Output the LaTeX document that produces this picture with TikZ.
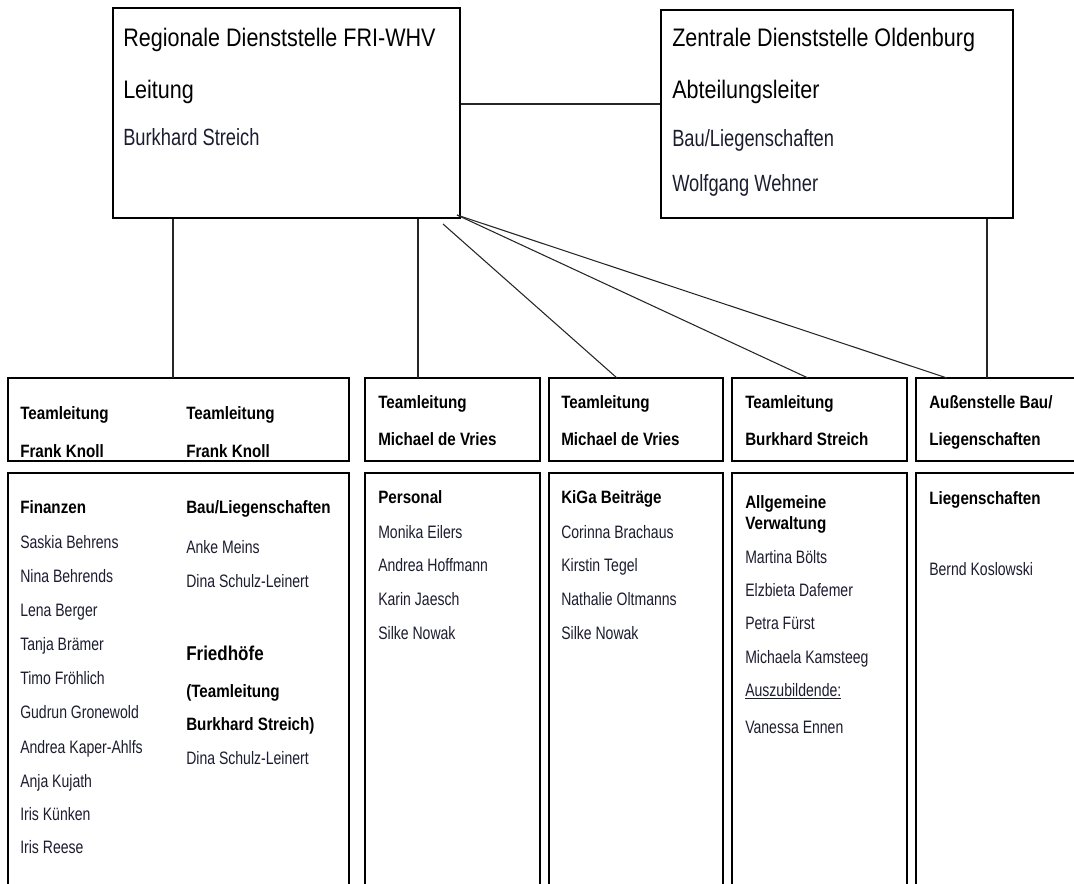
\documentclass[tikz,border=0pt]{standalone}
\usepackage{fontspec}
\setmainfont{Liberation Sans}[FakeStretch=0.85]
\newfontfamily\namefont{Liberation Sans}[FakeStretch=0.78]
\usetikzlibrary{fit}
\definecolor{namecol}{RGB}{28,28,48}
\begin{document}
\begin{tikzpicture}[x=0.75pt,y=-0.75pt,
  box/.style={draw=black, line width=1.2pt, inner sep=0pt},
  link/.style={draw=black!85, line width=0.8pt},
  big/.style={anchor=base west, inner sep=0pt, font=\fontsize{19}{23}\selectfont},
  mid/.style={anchor=base west, inner sep=0pt, font=\namefont\fontsize{17.6}{21}\selectfont, text=namecol},
  head/.style={anchor=base west, inner sep=0pt, font=\fontsize{13.4}{16}\selectfont\bfseries},
  who/.style={anchor=base west, inner sep=0pt, font=\namefont\fontsize{13.5}{16}\selectfont, text=namecol}]
\useasboundingbox (0,0) rectangle (1074,884);
\clip (0,0) rectangle (1074,884);

% top level offices
\node[box, fit={(113,8) (460,218)}] (reg) {};
\node[box, fit={(661,10) (1013,218)}] (zen) {};
\node[big] (reg1) at (123,47) {Regionale Dienststelle FRI-WHV};
\node[big] (reg2) at (123,99) {Leitung};
\node[mid] (reg3) at (123,146) {Burkhard Streich};
\node[big] (zen1) at (672,47) {Zentrale Dienststelle Oldenburg};
\node[big] (zen2) at (672,99) {Abteilungsleiter};
\node[mid] (zen3) at (672,147) {Bau/Liegenschaften};
\node[mid] (zen4) at (672,192) {Wolfgang Wehner};

% team heads
\node[box, fit={(8,378) (349,461)}] (h1) {};
\node[box, fit={(365,378) (540,461)}] (h2) {};
\node[box, fit={(549,378) (723,461)}] (h3) {};
\node[box, fit={(732,378) (907,461)}] (h4) {};
\node[box, fit={(916,378) (1090,461)}] (h5) {};

% team bodies
\node[box, fit={(8,473) (349,900)}] (b1) {};
\node[box, fit={(365,473) (540,900)}] (b2) {};
\node[box, fit={(549,473) (723,900)}] (b3) {};
\node[box, fit={(732,473) (907,900)}] (b4) {};
\node[box, fit={(916,473) (1090,900)}] (b5) {};

% connectors
\coordinate (link) at (560,104);
\draw[link] (reg.east |- link) -- (zen.west |- link);
\coordinate (t1) at (173,378);
\coordinate (t2) at (418,378);
\coordinate (t3) at (617,378);
\coordinate (t4) at (808,378);
\coordinate (t5) at (987,378);
\coordinate (t6) at (947,378);
\coordinate (a0) at (443,224);
\coordinate (a1) at (457,215);
\draw[link] (t1 |- reg.south) -- (t1);
\draw[link] (t2 |- reg.south) -- (t2);
\draw[link] (a0) -- (t3);
\draw[link] (a1) -- (t4);
\draw[link] (a1) -- (t6);
\draw[link] (t5 |- zen.south) -- (t5);

% head texts
\node[head] (h1a) at (20,419) {Teamleitung};
\node[head] (h1b) at (20,457) {Frank Knoll};
\node[head] (h1c) at (186,419) {Teamleitung};
\node[head] (h1d) at (186,457) {Frank Knoll};
\node[head] (h2a) at (378,408) {Teamleitung};
\node[head] (h2b) at (378,445) {Michael de Vries};
\node[head] (h3a) at (561,408) {Teamleitung};
\node[head] (h3b) at (561,445) {Michael de Vries};
\node[head] (h4a) at (745,408) {Teamleitung};
\node[head] (h4b) at (745,445) {Burkhard Streich};
\node[head] (h5a) at (929,408) {Außenstelle Bau/};
\node[head] (h5b) at (929,445) {Liegenschaften};

% Finanzen
\node[head] (f0) at (20,513) {Finanzen};
\node[who] (f1) at (20,548) {Saskia Behrens};
\node[who] (f2) at (20,582) {Nina Behrends};
\node[who] (f3) at (20,616) {Lena Berger};
\node[who] (f4) at (20,650) {Tanja Brämer};
\node[who] (f5) at (20,684) {Timo Fröhlich};
\node[who] (f6) at (20,718) {Gudrun Gronewold};
\node[who] (f7) at (20,753) {Andrea Kaper-Ahlfs};
\node[who] (f8) at (20,787) {Anja Kujath};
\node[who] (f9) at (20,820) {Iris Künken};
\node[who] (f10) at (20,853) {Iris Reese};

% Bau/Liegenschaften and Friedhoefe
\node[head] (l0) at (186,513) {Bau/Liegenschaften};
\node[who] (l1) at (186,553) {Anke Meins};
\node[who] (l2) at (186,587) {Dina Schulz-Leinert};
\node[head, font=\fontsize{15}{18}\selectfont\bfseries] (fr0) at (186,660) {Friedhöfe};
\node[head] (fr1) at (186,697) {(Teamleitung};
\node[head] (fr2) at (186,730) {Burkhard Streich)};
\node[who] (fr3) at (186,764) {Dina Schulz-Leinert};

% Personal
\node[head] (p0) at (378,503) {Personal};
\node[who] (p1) at (378,538) {Monika Eilers};
\node[who] (p2) at (378,571) {Andrea Hoffmann};
\node[who] (p3) at (378,605) {Karin Jaesch};
\node[who] (p4) at (378,639) {Silke Nowak};

% KiGa
\node[head] (k0) at (561,503) {KiGa Beiträge};
\node[who] (k1) at (561,538) {Corinna Brachaus};
\node[who] (k2) at (561,571) {Kirstin Tegel};
\node[who] (k3) at (561,605) {Nathalie Oltmanns};
\node[who] (k4) at (561,639) {Silke Nowak};

% Allgemeine Verwaltung
\node[head] (v0) at (745,508) {Allgemeine};
\node[head] (v1) at (745,529) {Verwaltung};
\node[who] (v2) at (745,563) {Martina Bölts};
\node[who] (v3) at (745,596) {Elzbieta Dafemer};
\node[who] (v4) at (745,629) {Petra Fürst};
\node[who] (v5) at (745,663) {Michaela Kamsteeg};
\node[who] (v6) at (745,696) {\underline{Auszubildende:}};
\node[who] (v7) at (745,733) {Vanessa Ennen};

% Liegenschaften
\node[head] (g0) at (929,504) {Liegenschaften};
\node[who] (g1) at (929,575) {Bernd Koslowski};
\end{tikzpicture}
\end{document}
